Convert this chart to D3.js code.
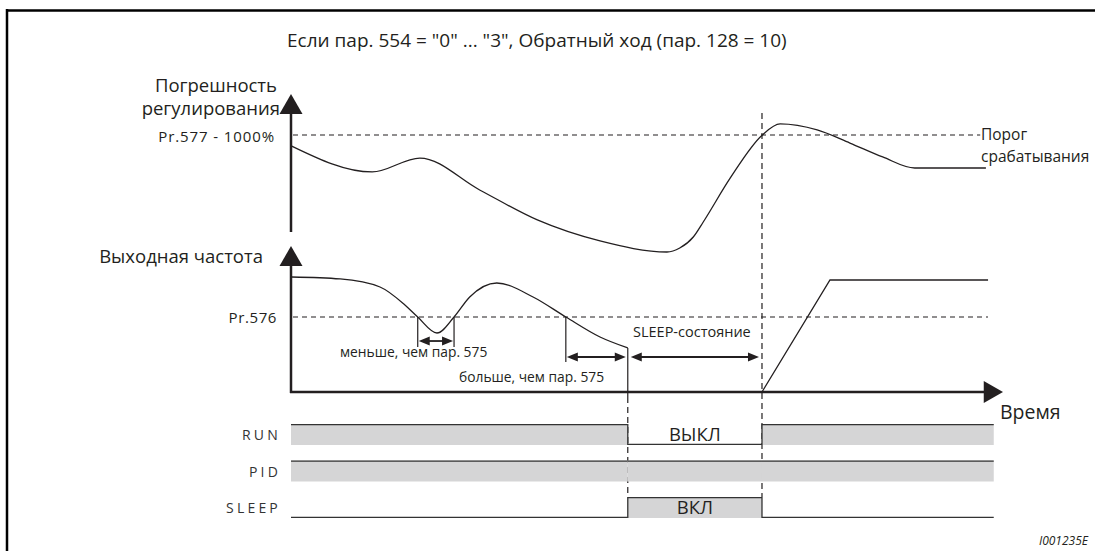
<!DOCTYPE html>
<html><head><meta charset="utf-8">
<script src="https://cdn.jsdelivr.net/npm/d3@7/dist/d3.min.js"></script>
<style>
body{margin:0;background:#fff;}
svg{display:block;font-family:"Open Sans","Noto Sans",sans-serif;}
</style></head>
<body><svg id="c" width="1095" height="551"></svg>
<script>
// ---- data (time in arbitrary units 0..100) ----
const titleText = 'Если пар. 554 = "0" ... "3", Обратный ход (пар. 128 = 10)';
const errTimes  = [0.1, 11.4, 18.1, 26.5, 34.6, 43.4, 52.8, 54.6, 56.5, 57.9, 61.7, 66.2, 68.7, 73.9, 78.5, 83.1, 87.6, 97.6];
const errValues = [90.8, 69.2, 80.8, 54.2, 29.2, 11.7, 2.5, 5.8, 15, 27.5, 64.2, 100, 109.2, 104.2, 93.3, 81.7, 72.5, 72.5];
const freqTimes  = [0.1, 6.9, 12.5, 16.0, 17.8, 20.5, 22.9, 25.1, 28.9, 34.0, 38.6, 43.4, 47.3];
const freqValues = [100, 98.3, 91.3, 75.7, 65.2, 51.3, 65.2, 82.6, 94.8, 82.6, 65.2, 47.8, 38.3];
const rampTimes  = [66.15, 75.7, 97.9];
const rampValues = [0, 97.4, 97.4];
const errThreshold = 100;     // Pr.577 - 1000%
const freqThreshold = 65.2;   // Pr.576
const tSleep = 47.3, tWake = 66.15;
const shortInterval = [17.8, 22.9];
const longInterval = [38.6, 47.3];
const signalNames = ["RUN", "PID", "SLEEP"];
const signalEdges = [0, 47.3, 66.15, 98.7];
const runLevels = [1, 0, 1];
const pidLevels = [1, 1, 1];
const sleepLevels = [0, 1, 0];

// ---- scales ----
const svg = d3.select("#c");
const x = d3.scaleLinear().domain([0, 100]).range([291, 1003]);
const yErr = d3.scaleLinear().domain([0, 100]).range([255, 135]);
const yFreq = d3.scaleLinear().domain([0, 100]).range([392, 277]);
const rowY = d3.scalePoint().domain(signalNames).range([424, 497]);
const rowH = 21;
const ink = "#231f20";

// frame
svg.append("line").attr("x1", 6).attr("x2", 1095).attr("y1", 10.5).attr("y2", 10.5).attr("stroke", "#000").attr("stroke-width", 2.5);
svg.append("line").attr("x1", 7).attr("x2", 7).attr("y1", 9).attr("y2", 551).attr("stroke", "#000").attr("stroke-width", 2.5);

const lab = (tx, ty, s, size, anchor, extra) => {
  const t = svg.append("text").attr("x", tx).attr("y", ty).attr("font-size", size).attr("fill", ink).attr("text-anchor", anchor || "start").text(s);
  if (extra) extra(t);
  return t;
};

// title
lab(287, 47, titleText, 19);

// ---- axes ----
function vArrow(tipY) {
  svg.append("path").attr("d", `M${x(0)},${tipY} L${x(0)-11.5},${tipY+20} L${x(0)+11.5},${tipY+20} Z`).attr("fill", ink);
}
svg.append("line").attr("x1", x(0)).attr("x2", x(0)).attr("y1", 112).attr("y2", 232).attr("stroke", ink).attr("stroke-width", 2.5);
vArrow(94);
svg.append("line").attr("x1", x(0)).attr("x2", x(0)).attr("y1", 262).attr("y2", yFreq(0)+1).attr("stroke", ink).attr("stroke-width", 2.5);
vArrow(246);
svg.append("line").attr("x1", x(0)-1).attr("x2", x(97.5)).attr("y1", yFreq(0)).attr("y2", yFreq(0)).attr("stroke", ink).attr("stroke-width", 2.5);
svg.append("path").attr("d", `M${x(100)},${yFreq(0)} L${x(97.3)},${yFreq(0)-11} L${x(97.3)},${yFreq(0)+11} Z`).attr("fill", ink);

// axis labels
lab(277, 92, "Погрешность", 18.5, "end");
lab(280, 115, "регулирования", 18.5, "end");
lab(275, 142, "Pr.577 - 1000%", 15, "end", t => t.attr("letter-spacing", 0.9));
lab(263, 263, "Выходная частота", 18.5, "end");
lab(277, 323, "Pr.576", 15, "end", t => t.attr("letter-spacing", 0.6));
lab(981, 140, "Порог", 15.5);
lab(981, 162, "срабатывания", 15.5);
lab(1000, 419, "Время", 19.5);

// dashed thresholds
svg.append("line").attr("x1", x(0)+2).attr("x2", x(96.8)).attr("y1", yErr(errThreshold)).attr("y2", yErr(errThreshold))
  .attr("stroke", ink).attr("stroke-width", 1.2).attr("stroke-dasharray", "5,4");
svg.append("line").attr("x1", x(0)+2).attr("x2", x(97.9)).attr("y1", yFreq(freqThreshold)).attr("y2", yFreq(freqThreshold))
  .attr("stroke", ink).attr("stroke-width", 1.2).attr("stroke-dasharray", "5,4");

// curves
const errLine = d3.line().x((d, i) => x(errTimes[i])).y(d => yErr(d)).curve(d3.curveMonotoneX);
svg.append("path").attr("d", errLine(errValues)).attr("fill", "none").attr("stroke", ink).attr("stroke-width", 1.3);
const freqLine = d3.line().x((d, i) => x(freqTimes[i])).y(d => yFreq(d)).curve(d3.curveMonotoneX);
svg.append("path").attr("d", freqLine(freqValues)).attr("fill", "none").attr("stroke", ink).attr("stroke-width", 1.3);
const rampLine = d3.line().x((d, i) => x(rampTimes[i])).y(d => yFreq(d));
svg.append("path").attr("d", rampLine(rampValues)).attr("fill", "none").attr("stroke", ink).attr("stroke-width", 1.3);

// dimension lines
function vline(t, y1, y2, dash) {
  const l = svg.append("line").attr("x1", x(t)).attr("x2", x(t)).attr("y1", y1).attr("y2", y2).attr("stroke", ink).attr("stroke-width", 1.2);
  if (dash) l.attr("stroke-dasharray", dash);
}
function dimArrow(x1, x2, yy) {
  const h = 9, w = 4.5;
  svg.append("line").attr("x1", x1+h).attr("x2", x2-h).attr("y1", yy).attr("y2", yy).attr("stroke", ink).attr("stroke-width", 1.8);
  svg.append("path").attr("d", `M${x1},${yy} L${x1+h+2},${yy-w} L${x1+h+2},${yy+w} Z M${x2},${yy} L${x2-h-2},${yy-w} L${x2-h-2},${yy+w} Z`).attr("fill", ink);
}
const thY = yFreq(freqThreshold);
vline(shortInterval[0], thY, thY + 30);
vline(shortInterval[1], thY, thY + 30);
dimArrow(x(shortInterval[0]) + 1, x(shortInterval[1]) - 1, thY + 24);
vline(longInterval[0], thY, thY + 45);
vline(longInterval[1], yFreq(freqValues[freqValues.length-1]), yFreq(0) + 5);
dimArrow(x(longInterval[0]) + 1, x(longInterval[1]) - 2, thY + 40);
dimArrow(x(tSleep) + 3, x(tWake) - 3, thY + 40);
lab(340, 357, "меньше, чем пар. 575", 13.8);
lab(459, 382, "больше, чем пар. 575", 13.8);
lab(633, 337, "SLEEP-состояние", 14.5);

// dashed verticals
vline(tSleep, yFreq(0) + 5, rowY("SLEEP"), "6,4");
vline(tWake, 113, rowY("SLEEP"), "6,4");

// ---- signals ----
const levelsByName = { RUN: runLevels, PID: pidLevels, SLEEP: sleepLevels };
signalNames.forEach(name => {
  const top = rowY(name), bot = top + rowH;
  const lv = levelsByName[name];
  lab(281, top + 16, name, 14, "end", t => t.attr("letter-spacing", 3.2).attr("fill", "#333"));
  lv.forEach((v, i) => {
    const x1 = x(signalEdges[i]), x2 = x(signalEdges[i+1]);
    if (v) {
      svg.append("rect").attr("x", x1).attr("y", top).attr("width", x2 - x1).attr("height", rowH).attr("fill", "#d5d5d6");
      svg.append("line").attr("x1", x1).attr("x2", x2).attr("y1", top + 0.6).attr("y2", top + 0.6).attr("stroke", "#333").attr("stroke-width", 1.3);
    } else {
      svg.append("line").attr("x1", x1).attr("x2", x2).attr("y1", bot - 0.6).attr("y2", bot - 0.6).attr("stroke", "#333").attr("stroke-width", 1.3);
    }
    if (i > 0 && lv[i-1] !== v) {
      svg.append("line").attr("x1", x1).attr("x2", x1).attr("y1", top).attr("y2", bot).attr("stroke", "#333").attr("stroke-width", 1.3);
    }
  });
});
lab((x(tSleep) + x(tWake)) / 2, rowY("RUN") + 17, "ВЫКЛ", 18.5, "middle");
lab((x(tSleep) + x(tWake)) / 2, rowY("SLEEP") + 17, "ВКЛ", 18.5, "middle");

lab(1088, 545, "I001235E", 12, "end", t => t.attr("font-style", "italic"));
</script></body></html>
